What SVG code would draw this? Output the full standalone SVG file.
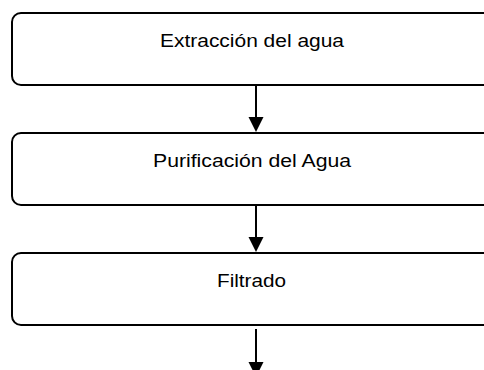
<svg xmlns="http://www.w3.org/2000/svg" width="484" height="370" viewBox="0 0 484 370">
<style>
.box{fill:#fff;stroke:#000;stroke-width:2}
.lbl{font-family:"Liberation Sans",Arial,sans-serif;font-size:18.7px;fill:#000;text-anchor:middle}
.conn{stroke:#000;stroke-width:2;fill:none}
.head{fill:#000}
</style>
<rect width="484" height="370" fill="#fff"/>
<g id="node1"><rect class="box" x="12" y="13" width="480" height="72" rx="9"/><text class="lbl" x="252" y="46.7" textLength="184" lengthAdjust="spacingAndGlyphs">Extracción del agua</text></g>
<g id="node2"><rect class="box" x="12" y="133" width="480" height="72" rx="9"/><text class="lbl" x="252" y="166.7" textLength="198" lengthAdjust="spacingAndGlyphs">Purificación del Agua</text></g>
<g id="node3"><rect class="box" x="12" y="253" width="480" height="72" rx="9"/><text class="lbl" x="251.5" y="286.7" textLength="69" lengthAdjust="spacingAndGlyphs">Filtrado</text></g>
<g id="connectors">
<line class="conn" x1="256" y1="86" x2="256" y2="118"/>
<polygon class="head" points="248.5,117 263.5,117 256,132"/>
<line class="conn" x1="256" y1="206" x2="256" y2="238"/>
<polygon class="head" points="248.5,237 263.5,237 256,252"/>
<line class="conn" x1="256" y1="329" x2="256" y2="363"/>
<polygon class="head" points="248.5,362 263.5,362 256,377"/>
</g>
</svg>
